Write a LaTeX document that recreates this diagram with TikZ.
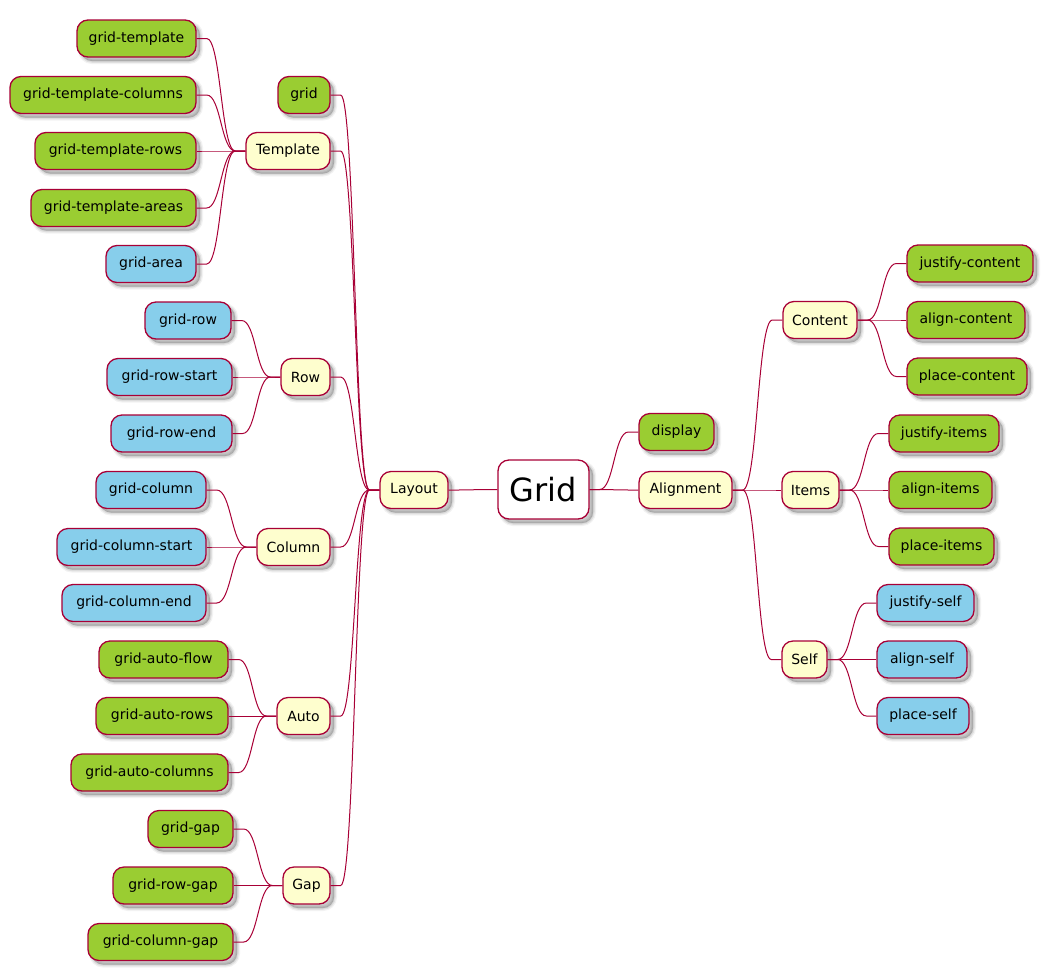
\documentclass[tikz,border=0pt]{standalone}
\usepackage{fontspec}
\setmainfont{DejaVu Sans}
\usetikzlibrary{calc}
\definecolor{bord}{HTML}{A80036}
\definecolor{leafgreen}{HTML}{9ACD32}
\definecolor{leafblue}{HTML}{87CEEB}
\definecolor{ivory}{HTML}{FEFECE}
\newcommand\mmlink[2]{%
  \draw[link] let \p1=(#1.east), \p2=(#2.west) in
    (\p1) -- (\x1+10pt,\y1)
    .. controls ({(\x1+\x2)/2},\y1) and ({(\x1+\x2)/2},\y2) ..
    (\x2-10pt,\y2) -- (\p2);}
\begin{document}
\begin{tikzpicture}[x=1pt,y=-1pt,
  mmbox/.style={draw=bord, line width=1.3pt, rounded corners=11pt,
    minimum height=37pt, inner sep=0pt, text=black,
    font=\fontsize{14}{16}\selectfont,
    preaction={draw=black, draw opacity=0.05, line width=6pt,
      transform canvas={shift={(4pt,-4pt)}}},
    preaction={fill=black, fill opacity=0.2, draw=black, draw opacity=0.08,
      line width=3.5pt, transform canvas={shift={(4pt,-4pt)}}},
    preaction={draw=black, draw opacity=0.07, line width=1.2pt,
      transform canvas={shift={(4pt,-4pt)}}}},
  gleaf/.style={mmbox, fill=leafgreen},
  bleaf/.style={mmbox, fill=leafblue},
  mid/.style={mmbox, fill=ivory},
  rootbox/.style={mmbox, fill=white, minimum height=59pt,
    font=\fontsize{32}{36}\selectfont},
  link/.style={draw=bord, line width=1pt}]
\useasboundingbox (0,0) rectangle (1050,978);

% root and first level
\node[rootbox, minimum width=91pt] (grid0) at (543.5,489.5) {Grid};
\node[mid, minimum width=68pt] (layout) at (414,490) {Layout};
\node[gleaf, minimum width=75pt] (display) at (676.5,432) {display};
\node[mid, minimum width=93pt] (alignment) at (685.5,490) {Alignment};

% Layout children
\node[gleaf, minimum width=52pt] (grid) at (304,95) {grid};
\node[mid, minimum width=84pt] (template) at (288,151) {Template};
\node[mid, minimum width=49pt] (row) at (305.5,377) {Row};
\node[mid, minimum width=73pt] (column) at (293.5,547) {Column};
\node[mid, minimum width=53pt] (auto) at (303.5,716) {Auto};
\node[mid, minimum width=47pt] (gap) at (306.5,885.5) {Gap};

% Template children
\node[gleaf, minimum width=119pt] (gt) at (136.5,38.5) {grid-template};
\node[gleaf, minimum width=186pt] (gtc) at (103,95) {grid-template-columns};
\node[gleaf, minimum width=161pt] (gtr) at (115.5,151) {grid-template-rows};
\node[gleaf, minimum width=165pt] (gta) at (113.5,208) {grid-template-areas};
\node[bleaf, minimum width=90pt] (ga) at (151,264) {grid-area};

% Row children
\node[bleaf, minimum width=86pt] (gr) at (188,320.5) {grid-row};
\node[bleaf, minimum width=125pt] (grs) at (169.5,377) {grid-row-start};
\node[bleaf, minimum width=121pt] (gre) at (171.5,433.5) {grid-row-end};

% Column children
\node[bleaf, minimum width=110pt] (gc) at (151,490) {grid-column};
\node[bleaf, minimum width=149pt] (gcs) at (131.5,547) {grid-column-start};
\node[bleaf, minimum width=144pt] (gce) at (134,603) {grid-column-end};

% Auto children
\node[gleaf, minimum width=129pt] (gaf) at (163.5,659.5) {grid-auto-flow};
\node[gleaf, minimum width=132pt] (gar) at (162,716) {grid-auto-rows};
\node[gleaf, minimum width=157pt] (gac) at (149.5,772.5) {grid-auto-columns};

% Gap children
\node[gleaf, minimum width=85pt] (gg) at (190.5,829) {grid-gap};
\node[gleaf, minimum width=120pt] (grg) at (173,885.5) {grid-row-gap};
\node[gleaf, minimum width=145pt] (gcg) at (160.5,942) {grid-column-gap};

% Alignment children
\node[mid, minimum width=74pt] (content) at (820,320) {Content};
\node[mid, minimum width=57pt] (items) at (810.5,490) {Items};
\node[mid, minimum width=45pt] (self) at (804.5,659.5) {Self};

\node[gleaf, minimum width=126pt] (jc) at (970,263.5) {justify-content};
\node[gleaf, minimum width=118pt] (ac) at (966,320) {align-content};
\node[gleaf, minimum width=120pt] (pc) at (967,376.5) {place-content};

\node[gleaf, minimum width=110pt] (ji) at (944,433.5) {justify-items};
\node[gleaf, minimum width=103pt] (ai) at (940.5,490) {align-items};
\node[gleaf, minimum width=105pt] (pi) at (941.5,546.5) {place-items};

\node[bleaf, minimum width=97pt] (js) at (925.5,603) {justify-self};
\node[bleaf, minimum width=90pt] (as) at (922,659.5) {align-self};
\node[bleaf, minimum width=92pt] (ps) at (923,716) {place-self};

% connectors
\mmlink{layout}{grid0}
\mmlink{grid0}{display}
\mmlink{grid0}{alignment}
\foreach \c in {grid,template,row,column,auto,gap} {\mmlink{\c}{layout}}
\foreach \c in {gt,gtc,gtr,gta,ga} {\mmlink{\c}{template}}
\foreach \c in {gr,grs,gre} {\mmlink{\c}{row}}
\foreach \c in {gc,gcs,gce} {\mmlink{\c}{column}}
\foreach \c in {gaf,gar,gac} {\mmlink{\c}{auto}}
\foreach \c in {gg,grg,gcg} {\mmlink{\c}{gap}}
\foreach \c in {content,items,self} {\mmlink{alignment}{\c}}
\foreach \c in {jc,ac,pc} {\mmlink{content}{\c}}
\foreach \c in {ji,ai,pi} {\mmlink{items}{\c}}
\foreach \c in {js,as,ps} {\mmlink{self}{\c}}
\end{tikzpicture}
\end{document}
